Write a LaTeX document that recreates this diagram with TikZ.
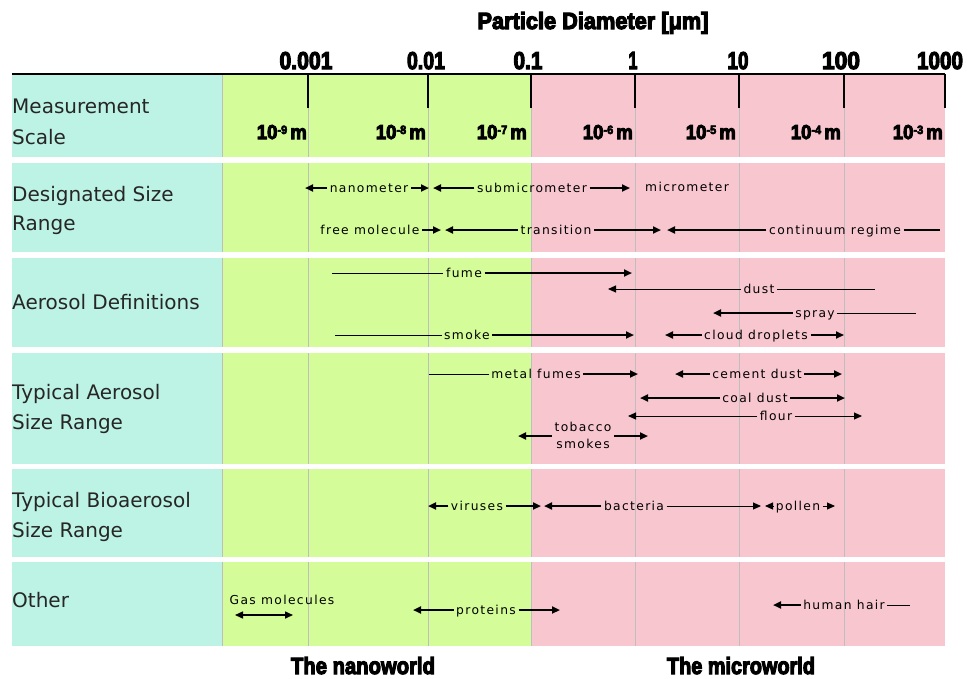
\documentclass[tikz,border=0pt]{standalone}
\usepackage{fontspec}
\usetikzlibrary{arrows.meta,calc}
\setmainfont{DejaVu Sans}
\newfontfamily\rowfont{DejaVu Sans}
\newfontfamily\lblfont[LetterSpace=11]{DejaVu Sans}
\newfontfamily\headfont{Liberation Sans}[UprightFont={* Bold},UprightFeatures={FakeBold=5}]
\definecolor{tealbg}{RGB}{189,243,228}
\definecolor{greenbg}{RGB}{212,252,152}
\definecolor{pinkbg}{RGB}{248,198,206}
\definecolor{gridc}{RGB}{190,190,190}
\newcommand{\hdtxt}[3]{\resizebox{#1pt}{#2pt}{\headfont #3}}
\newcommand{\unitm}[1]{10\raisebox{0.25em}{\scalebox{0.6}{-#1}}\,m}
\begin{document}
\begin{tikzpicture}[x=1pt,y=-1pt,
  rowlbl/.style={anchor=base west,inner sep=0pt,font=\rowfont\fontsize{20}{24}\selectfont,text=black!85},
  lbl/.style={anchor=base,inner sep=2.5pt,font=\lblfont\fontsize{12.3}{14}\selectfont},
  hdl/.style={anchor=base,inner sep=0pt},
  unitl/.style={anchor=base east,inner sep=0pt},
  thk/.style={line width=2.6pt},
  thn/.style={line width=1pt},
  med/.style={line width=1.8pt},
  gridl/.style={draw=gridc,line width=1pt},
  >={Triangle[length=8pt,width=7pt]}]
\fill[white] (0,0) rectangle (971,678);
\useasboundingbox (0,0) rectangle (971,678);

% rows
\foreach \t/\b in {75/157,163/252,258/347,353/464,469/557,562/646}{
  \fill[tealbg] (12,\t) rectangle (222,\b);
  \fill[greenbg] (222,\t) rectangle (531,\b);
  \fill[pinkbg] (531,\t) rectangle (945,\b);
}
% grid lines
\draw[gridl] (222,75) -- (222,157);
\foreach \x in {308,428,531,635,739,844}{\draw[gridl] (\x,108) -- (\x,157);}
\foreach \t/\b in {163/252,258/347,353/464,469/557,562/646}{
  \foreach \x in {222,308,428,531,635,739,844}{\draw[gridl] (\x,\t) -- (\x,\b);}
}
\draw[line width=2pt] (12,74) -- (945,74);
\foreach \x in {308,428,531,635,739,844,945}{\draw[line width=1.2pt] (\x,74) -- (\x,108);}

% headings
\node[hdl] (title) at (593,29) {\hdtxt{231}{17}{Particle Diameter [μm]}};
\node[hdl] (t1) at (306,69) {\hdtxt{53}{17}{0.001}};
\node[hdl] (t2) at (426,69) {\hdtxt{38}{17}{0.01}};
\node[hdl] (t3) at (528,69) {\hdtxt{29}{17}{0.1}};
\node[hdl] (t4) at (633,69) {\hdtxt{9}{17}{1}};
\node[hdl] (t5) at (738,69) {\hdtxt{21}{17}{10}};
\node[hdl] (t6) at (841,69) {\hdtxt{38}{17}{100}};
\node[hdl] (t7) at (940,69) {\hdtxt{46}{17}{1000}};
\node[unitl] (u9) at (307,139) {\hdtxt{50}{14}{\unitm{9}}};
\node[unitl] (u8) at (426,139) {\hdtxt{50}{14}{\unitm{8}}};
\node[unitl] (u7) at (527,139) {\hdtxt{50}{14}{\unitm{7}}};
\node[unitl] (u6) at (633,139) {\hdtxt{50}{14}{\unitm{6}}};
\node[unitl] (u5) at (736,139) {\hdtxt{50}{14}{\unitm{5}}};
\node[unitl] (u4) at (841,139) {\hdtxt{50}{14}{\unitm{4}}};
\node[unitl] (u3) at (943,139) {\hdtxt{50}{14}{\unitm{3}}};
\node[hdl] (nanow) at (363,674) {\hdtxt{144}{17}{The nanoworld}};
\node[hdl] (microw) at (741,674) {\hdtxt{148}{17}{The microworld}};

% row labels
\node[rowlbl] (r1a) at (12,113) {Measurement};
\node[rowlbl] (r1b) at (12,144) {Scale};
\node[rowlbl] (r2a) at (12,201) {Designated Size};
\node[rowlbl] (r2b) at (12,230) {Range};
\node[rowlbl] (r3a) at (12,309) {Aerosol Definitions};
\node[rowlbl] (r4a) at (12,399) {Typical Aerosol};
\node[rowlbl] (r4b) at (12,429) {Size Range};
\node[rowlbl] (r5a) at (12,507) {Typical Bioaerosol};
\node[rowlbl] (r5b) at (12,537) {Size Range};
\node[rowlbl] (r6a) at (12,607) {Other};

% ---- Designated size range
\node[lbl] (nano) at (369,192) {nanometer};
\coordinate (nanoL) at (305,188); \coordinate (nanoR) at (429,188);
\draw[thk,->] (nanoL -| nano.west) -- (nanoL);
\draw[thk,->] (nanoR -| nano.east) -- (nanoR);
\node[lbl] (submic) at (532,192) {submicrometer};
\coordinate (submicL) at (433,188); \coordinate (submicR) at (630,188);
\draw[thk,->] (submicL -| submic.west) -- (submicL);
\draw[thk,->] (submicR -| submic.east) -- (submicR);
\node[lbl] (micro) at (687,191) {micrometer};

\node[lbl] (freem) at (370,234) {free molecule};
\coordinate (freemR) at (441,230);
\draw[thk,->] (freemR -| freem.east) -- (freemR);
\node[lbl] (trans) at (556,234) {transition};
\coordinate (transL) at (445,230); \coordinate (transR) at (661,230);
\draw[thk,->] (transL -| trans.west) -- (transL);
\draw[thk,->] (transR -| trans.east) -- (transR);
\node[lbl] (cont) at (835,234) {continuum regime};
\coordinate (contL) at (667,230); \coordinate (contR) at (940,230);
\draw[thk,->] (contL -| cont.west) -- (contL);
\draw[med] (contR -| cont.east) -- (contR);

% ---- Aerosol definitions
\node[lbl] (fume) at (464,277) {fume};
\coordinate (fumeL) at (332,273); \coordinate (fumeR) at (632,273);
\draw[thn] (fumeL) -- (fumeL -| fume.west);
\draw[thk,->] (fumeR -| fume.east) -- (fumeR);
\node[lbl] (dust) at (759,293) {dust};
\coordinate (dustL) at (608,289); \coordinate (dustR) at (875,289);
\draw[thn,->] (dustL -| dust.west) -- (dustL);
\draw[thn] (dustR -| dust.east) -- (dustR);
\node[lbl] (spray) at (815,317) {spray};
\coordinate (sprayL) at (713,313); \coordinate (sprayR) at (916,313);
\draw[thk,->] (sprayL -| spray.west) -- (sprayL);
\draw[thn] (sprayR -| spray.east) -- (sprayR);
\node[lbl] (smoke) at (467,339) {smoke};
\coordinate (smokeL) at (335,335); \coordinate (smokeR) at (634,335);
\draw[thn] (smokeL) -- (smokeL -| smoke.west);
\draw[thk,->] (smokeR -| smoke.east) -- (smokeR);
\node[lbl] (cloud) at (756,339) {cloud droplets};
\coordinate (cloudL) at (665,335); \coordinate (cloudR) at (844,335);
\draw[med,->] (cloudL -| cloud.west) -- (cloudL);
\draw[med,->] (cloudR -| cloud.east) -- (cloudR);

% ---- Typical aerosol size range
\node[lbl] (metal) at (536,378) {metal fumes};
\coordinate (metalL) at (429,374); \coordinate (metalR) at (638,374);
\draw[thn] (metalL) -- (metalL -| metal.west);
\draw[thk,->] (metalR -| metal.east) -- (metalR);
\node[lbl] (cement) at (757,378) {cement dust};
\coordinate (cementL) at (675,374); \coordinate (cementR) at (842,374);
\draw[thk,->] (cementL -| cement.west) -- (cementL);
\draw[thk,->] (cementR -| cement.east) -- (cementR);
\node[lbl] (coal) at (755,402) {coal dust};
\coordinate (coalL) at (640,398); \coordinate (coalR) at (845,398);
\draw[thk,->] (coalL -| coal.west) -- (coalL);
\draw[thk,->] (coalR -| coal.east) -- (coalR);
\node[lbl] (flour) at (776,420) {flour};
\coordinate (flourL) at (628,416); \coordinate (flourR) at (862,416);
\draw[thn,->] (flourL -| flour.west) -- (flourL);
\draw[thn,->] (flourR -| flour.east) -- (flourR);
\node[lbl] (tob) at (583,431) {tobacco};
\node[lbl] (tobb) at (583,448) {smokes};
\coordinate (tobL) at (518,436); \coordinate (tobR) at (648,436);
\draw[thk,->] (tobL -| tob.west) -- (tobL);
\draw[thk,->] (tobR -| tob.east) -- (tobR);

% ---- Bioaerosol
\node[lbl] (vir) at (477,510) {viruses};
\coordinate (virL) at (428,506); \coordinate (virR) at (541,506);
\draw[thk,->] (virL -| vir.west) -- (virL);
\draw[thk,->] (virR -| vir.east) -- (virR);
\node[lbl] (bact) at (634,510) {bacteria};
\coordinate (bactL) at (544,506); \coordinate (bactR) at (761,506);
\draw[thk,->] (bactL -| bact.west) -- (bactL);
\draw[thn,->] (bactR -| bact.east) -- (bactR);
\node[lbl] (pollen) at (798,510) {pollen};
\coordinate (pollenL) at (765,506); \coordinate (pollenR) at (835,506);
\draw[thn,->] (pollenL -| pollen.west) -- (pollenL);
\draw[thn,->] (pollenR -| pollen.east) -- (pollenR);

% ---- Other
\node[lbl] (gas) at (282,604) {Gas molecules};
\coordinate (gasL) at (235,615); \coordinate (gasR) at (293,615);
\draw[line width=1.5pt,<->] (gasL) -- (gasR);
\node[lbl] (prot) at (486,614) {proteins};
\coordinate (protL) at (413,610); \coordinate (protR) at (560,610);
\draw[thk,->] (protL -| prot.west) -- (protL);
\draw[thk,->] (protR -| prot.east) -- (protR);
\node[lbl] (hair) at (844,609) {human hair};
\coordinate (hairL) at (773,605); \coordinate (hairR) at (910,605);
\draw[thk,->] (hairL -| hair.west) -- (hairL);
\draw[thn] (hairR -| hair.east) -- (hairR);
\end{tikzpicture}
\end{document}
